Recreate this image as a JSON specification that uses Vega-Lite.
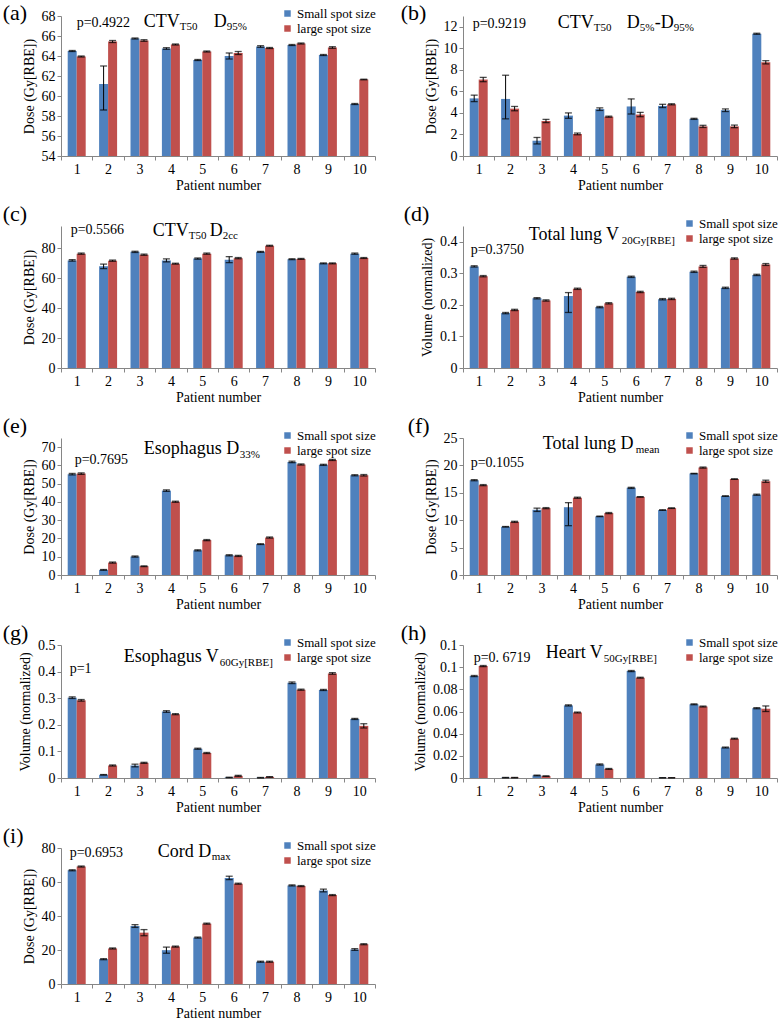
{
 "$schema": "https://vega.github.io/schema/vega-lite/v6.json",
 "padding": {"left": 2, "top": 2, "right": 2, "bottom": 2},
 "background": "white",
 "datasets": {
  "a": [
   {"patient":1,"group":"Small spot size","v":64.5,"lo":64.45,"hi":64.55},{"patient":1,"group":"large spot size","v":63.95,"lo":63.9,"hi":64.0},
   {"patient":2,"group":"Small spot size","v":61.2,"lo":58.6,"hi":63.0},{"patient":2,"group":"large spot size","v":65.45,"lo":65.35,"hi":65.55},
   {"patient":3,"group":"Small spot size","v":65.75,"lo":65.7,"hi":65.8},{"patient":3,"group":"large spot size","v":65.55,"lo":65.47,"hi":65.63},
   {"patient":4,"group":"Small spot size","v":64.75,"lo":64.67,"hi":64.83},{"patient":4,"group":"large spot size","v":65.15,"lo":65.1,"hi":65.2},
   {"patient":5,"group":"Small spot size","v":63.6,"lo":63.55,"hi":63.65},{"patient":5,"group":"large spot size","v":64.45,"lo":64.4,"hi":64.5},
   {"patient":6,"group":"Small spot size","v":64.0,"lo":63.7,"hi":64.3},{"patient":6,"group":"large spot size","v":64.3,"lo":64.15,"hi":64.45},
   {"patient":7,"group":"Small spot size","v":64.95,"lo":64.87,"hi":65.03},{"patient":7,"group":"large spot size","v":64.8,"lo":64.75,"hi":64.85},
   {"patient":8,"group":"Small spot size","v":65.1,"lo":65.05,"hi":65.15},{"patient":8,"group":"large spot size","v":65.25,"lo":65.2,"hi":65.3},
   {"patient":9,"group":"Small spot size","v":64.1,"lo":64.05,"hi":64.15},{"patient":9,"group":"large spot size","v":64.85,"lo":64.77,"hi":64.93},
   {"patient":10,"group":"Small spot size","v":59.2,"lo":59.15,"hi":59.25},{"patient":10,"group":"large spot size","v":61.65,"lo":61.62,"hi":61.68}
  ],
  "b": [
   {"patient":1,"group":"Small spot size","v":5.35,"lo":5.05,"hi":5.65},{"patient":1,"group":"large spot size","v":7.1,"lo":6.9,"hi":7.3},
   {"patient":2,"group":"Small spot size","v":5.3,"lo":3.45,"hi":7.5},{"patient":2,"group":"large spot size","v":4.4,"lo":4.2,"hi":4.6},
   {"patient":3,"group":"Small spot size","v":1.42,"lo":1.12,"hi":1.72},{"patient":3,"group":"large spot size","v":3.25,"lo":3.1,"hi":3.4},
   {"patient":4,"group":"Small spot size","v":3.75,"lo":3.5,"hi":4.0},{"patient":4,"group":"large spot size","v":2.05,"lo":1.97,"hi":2.13},
   {"patient":5,"group":"Small spot size","v":4.35,"lo":4.23,"hi":4.47},{"patient":5,"group":"large spot size","v":3.65,"lo":3.6,"hi":3.7},
   {"patient":6,"group":"Small spot size","v":4.6,"lo":3.9,"hi":5.3},{"patient":6,"group":"large spot size","v":3.85,"lo":3.65,"hi":4.05},
   {"patient":7,"group":"Small spot size","v":4.65,"lo":4.5,"hi":4.8},{"patient":7,"group":"large spot size","v":4.8,"lo":4.75,"hi":4.85},
   {"patient":8,"group":"Small spot size","v":3.45,"lo":3.4,"hi":3.5},{"patient":8,"group":"large spot size","v":2.75,"lo":2.65,"hi":2.85},
   {"patient":9,"group":"Small spot size","v":4.25,"lo":4.13,"hi":4.37},{"patient":9,"group":"large spot size","v":2.75,"lo":2.63,"hi":2.87},
   {"patient":10,"group":"Small spot size","v":11.35,"lo":11.3,"hi":11.4},{"patient":10,"group":"large spot size","v":8.7,"lo":8.55,"hi":8.85}
  ],
  "c": [
   {"patient":1,"group":"Small spot size","v":72.0,"lo":71.5,"hi":72.5},{"patient":1,"group":"large spot size","v":76.5,"lo":76.1,"hi":76.9},
   {"patient":2,"group":"Small spot size","v":68.0,"lo":66.5,"hi":69.5},{"patient":2,"group":"large spot size","v":71.8,"lo":71.4,"hi":72.2},
   {"patient":3,"group":"Small spot size","v":77.7,"lo":77.3,"hi":78.1},{"patient":3,"group":"large spot size","v":75.8,"lo":75.4,"hi":76.2},
   {"patient":4,"group":"Small spot size","v":72.0,"lo":71.0,"hi":73.0},{"patient":4,"group":"large spot size","v":69.8,"lo":69.5,"hi":70.1},
   {"patient":5,"group":"Small spot size","v":73.2,"lo":72.8,"hi":73.6},{"patient":5,"group":"large spot size","v":76.5,"lo":76.1,"hi":76.9},
   {"patient":6,"group":"Small spot size","v":72.5,"lo":70.5,"hi":74.5},{"patient":6,"group":"large spot size","v":73.5,"lo":73.1,"hi":73.9},
   {"patient":7,"group":"Small spot size","v":77.7,"lo":77.4,"hi":78.0},{"patient":7,"group":"large spot size","v":81.8,"lo":81.5,"hi":82.1},
   {"patient":8,"group":"Small spot size","v":72.8,"lo":72.5,"hi":73.1},{"patient":8,"group":"large spot size","v":73.0,"lo":72.7,"hi":73.3},
   {"patient":9,"group":"Small spot size","v":70.0,"lo":69.7,"hi":70.3},{"patient":9,"group":"large spot size","v":70.0,"lo":69.7,"hi":70.3},
   {"patient":10,"group":"Small spot size","v":76.5,"lo":76.1,"hi":76.9},{"patient":10,"group":"large spot size","v":73.6,"lo":73.3,"hi":73.9}
  ],
  "d": [
   {"patient":1,"group":"Small spot size","v":0.322,"lo":0.32,"hi":0.324},{"patient":1,"group":"large spot size","v":0.291,"lo":0.289,"hi":0.293},
   {"patient":2,"group":"Small spot size","v":0.174,"lo":0.172,"hi":0.176},{"patient":2,"group":"large spot size","v":0.184,"lo":0.182,"hi":0.186},
   {"patient":3,"group":"Small spot size","v":0.221,"lo":0.219,"hi":0.223},{"patient":3,"group":"large spot size","v":0.214,"lo":0.212,"hi":0.216},
   {"patient":4,"group":"Small spot size","v":0.228,"lo":0.176,"hi":0.239},{"patient":4,"group":"large spot size","v":0.251,"lo":0.249,"hi":0.253},
   {"patient":5,"group":"Small spot size","v":0.193,"lo":0.191,"hi":0.195},{"patient":5,"group":"large spot size","v":0.205,"lo":0.203,"hi":0.207},
   {"patient":6,"group":"Small spot size","v":0.289,"lo":0.287,"hi":0.291},{"patient":6,"group":"large spot size","v":0.241,"lo":0.239,"hi":0.243},
   {"patient":7,"group":"Small spot size","v":0.218,"lo":0.216,"hi":0.22},{"patient":7,"group":"large spot size","v":0.219,"lo":0.217,"hi":0.221},
   {"patient":8,"group":"Small spot size","v":0.305,"lo":0.303,"hi":0.307},{"patient":8,"group":"large spot size","v":0.322,"lo":0.319,"hi":0.325},
   {"patient":9,"group":"Small spot size","v":0.254,"lo":0.252,"hi":0.256},{"patient":9,"group":"large spot size","v":0.347,"lo":0.345,"hi":0.349},
   {"patient":10,"group":"Small spot size","v":0.295,"lo":0.293,"hi":0.297},{"patient":10,"group":"large spot size","v":0.328,"lo":0.325,"hi":0.331}
  ],
  "e": [
   {"patient":1,"group":"Small spot size","v":55.2,"lo":54.8,"hi":55.6},{"patient":1,"group":"large spot size","v":55.5,"lo":55.1,"hi":55.9},
   {"patient":2,"group":"Small spot size","v":2.8,"lo":2.6,"hi":3.0},{"patient":2,"group":"large spot size","v":6.8,"lo":6.5,"hi":7.1},
   {"patient":3,"group":"Small spot size","v":10.1,"lo":9.8,"hi":10.4},{"patient":3,"group":"large spot size","v":4.8,"lo":4.6,"hi":5.0},
   {"patient":4,"group":"Small spot size","v":46.2,"lo":45.8,"hi":46.6},{"patient":4,"group":"large spot size","v":40.1,"lo":39.8,"hi":40.4},
   {"patient":5,"group":"Small spot size","v":13.5,"lo":13.2,"hi":13.8},{"patient":5,"group":"large spot size","v":19.1,"lo":18.8,"hi":19.4},
   {"patient":6,"group":"Small spot size","v":10.8,"lo":10.5,"hi":11.1},{"patient":6,"group":"large spot size","v":10.45,"lo":10.15,"hi":10.75},
   {"patient":7,"group":"Small spot size","v":16.9,"lo":16.7,"hi":17.1},{"patient":7,"group":"large spot size","v":20.5,"lo":20.2,"hi":20.8},
   {"patient":8,"group":"Small spot size","v":61.9,"lo":61.5,"hi":62.3},{"patient":8,"group":"large spot size","v":60.5,"lo":60.2,"hi":60.8},
   {"patient":9,"group":"Small spot size","v":60.3,"lo":60.0,"hi":60.6},{"patient":9,"group":"large spot size","v":63.0,"lo":62.7,"hi":63.3},
   {"patient":10,"group":"Small spot size","v":54.6,"lo":54.3,"hi":54.9},{"patient":10,"group":"large spot size","v":54.6,"lo":54.2,"hi":55.0}
  ],
  "f": [
   {"patient":1,"group":"Small spot size","v":17.3,"lo":17.2,"hi":17.4},{"patient":1,"group":"large spot size","v":16.4,"lo":16.3,"hi":16.5},
   {"patient":2,"group":"Small spot size","v":8.8,"lo":8.75,"hi":8.85},{"patient":2,"group":"large spot size","v":9.7,"lo":9.6,"hi":9.8},
   {"patient":3,"group":"Small spot size","v":11.9,"lo":11.6,"hi":12.2},{"patient":3,"group":"large spot size","v":12.2,"lo":12.1,"hi":12.3},
   {"patient":4,"group":"Small spot size","v":12.37,"lo":9.0,"hi":13.2},{"patient":4,"group":"large spot size","v":14.1,"lo":14.0,"hi":14.2},
   {"patient":5,"group":"Small spot size","v":10.7,"lo":10.65,"hi":10.75},{"patient":5,"group":"large spot size","v":11.3,"lo":11.2,"hi":11.4},
   {"patient":6,"group":"Small spot size","v":15.9,"lo":15.8,"hi":16.0},{"patient":6,"group":"large spot size","v":14.25,"lo":14.2,"hi":14.3},
   {"patient":7,"group":"Small spot size","v":11.85,"lo":11.8,"hi":11.9},{"patient":7,"group":"large spot size","v":12.2,"lo":12.15,"hi":12.25},
   {"patient":8,"group":"Small spot size","v":18.5,"lo":18.45,"hi":18.55},{"patient":8,"group":"large spot size","v":19.6,"lo":19.5,"hi":19.7},
   {"patient":9,"group":"Small spot size","v":14.4,"lo":14.35,"hi":14.45},{"patient":9,"group":"large spot size","v":17.5,"lo":17.45,"hi":17.55},
   {"patient":10,"group":"Small spot size","v":14.65,"lo":14.55,"hi":14.75},{"patient":10,"group":"large spot size","v":17.1,"lo":16.9,"hi":17.3}
  ],
  "g": [
   {"patient":1,"group":"Small spot size","v":0.302,"lo":0.299,"hi":0.305},{"patient":1,"group":"large spot size","v":0.292,"lo":0.289,"hi":0.295},
   {"patient":2,"group":"Small spot size","v":0.012,"lo":0.011,"hi":0.013},{"patient":2,"group":"large spot size","v":0.047,"lo":0.045,"hi":0.049},
   {"patient":3,"group":"Small spot size","v":0.047,"lo":0.042,"hi":0.052},{"patient":3,"group":"large spot size","v":0.057,"lo":0.055,"hi":0.059},
   {"patient":4,"group":"Small spot size","v":0.25,"lo":0.247,"hi":0.253},{"patient":4,"group":"large spot size","v":0.24,"lo":0.238,"hi":0.242},
   {"patient":5,"group":"Small spot size","v":0.11,"lo":0.108,"hi":0.112},{"patient":5,"group":"large spot size","v":0.094,"lo":0.092,"hi":0.096},
   {"patient":6,"group":"Small spot size","v":0.002,"lo":0.001,"hi":0.003},{"patient":6,"group":"large spot size","v":0.008,"lo":0.006,"hi":0.01},
   {"patient":7,"group":"Small spot size","v":0.001,"lo":0.0,"hi":0.002},{"patient":7,"group":"large spot size","v":0.004,"lo":0.003,"hi":0.005},
   {"patient":8,"group":"Small spot size","v":0.358,"lo":0.355,"hi":0.361},{"patient":8,"group":"large spot size","v":0.332,"lo":0.33,"hi":0.334},
   {"patient":9,"group":"Small spot size","v":0.331,"lo":0.329,"hi":0.333},{"patient":9,"group":"large spot size","v":0.393,"lo":0.39,"hi":0.396},
   {"patient":10,"group":"Small spot size","v":0.222,"lo":0.22,"hi":0.224},{"patient":10,"group":"large spot size","v":0.196,"lo":0.188,"hi":0.204}
  ],
  "h": [
   {"patient":1,"group":"Small spot size","v":0.092,"lo":0.0915,"hi":0.0925},{"patient":1,"group":"large spot size","v":0.101,"lo":0.1005,"hi":0.1015},
   {"patient":2,"group":"Small spot size","v":0.0003,"lo":0.0001,"hi":0.0005},{"patient":2,"group":"large spot size","v":0.0003,"lo":0.0001,"hi":0.0005},
   {"patient":3,"group":"Small spot size","v":0.0023,"lo":0.002,"hi":0.0026},{"patient":3,"group":"large spot size","v":0.0017,"lo":0.0015,"hi":0.0019},
   {"patient":4,"group":"Small spot size","v":0.0655,"lo":0.065,"hi":0.066},{"patient":4,"group":"large spot size","v":0.0591,"lo":0.0587,"hi":0.0595},
   {"patient":5,"group":"Small spot size","v":0.0122,"lo":0.0117,"hi":0.0127},{"patient":5,"group":"large spot size","v":0.0082,"lo":0.0078,"hi":0.0086},
   {"patient":6,"group":"Small spot size","v":0.0965,"lo":0.096,"hi":0.097},{"patient":6,"group":"large spot size","v":0.0905,"lo":0.0901,"hi":0.0909},
   {"patient":7,"group":"Small spot size","v":0.0002,"lo":0.0001,"hi":0.0003},{"patient":7,"group":"large spot size","v":0.0002,"lo":0.0001,"hi":0.0003},
   {"patient":8,"group":"Small spot size","v":0.0665,"lo":0.0661,"hi":0.0669},{"patient":8,"group":"large spot size","v":0.0645,"lo":0.0641,"hi":0.0649},
   {"patient":9,"group":"Small spot size","v":0.0275,"lo":0.0271,"hi":0.0279},{"patient":9,"group":"large spot size","v":0.0355,"lo":0.0351,"hi":0.0359},
   {"patient":10,"group":"Small spot size","v":0.063,"lo":0.0625,"hi":0.0635},{"patient":10,"group":"large spot size","v":0.0625,"lo":0.06,"hi":0.065}
  ],
  "i": [
   {"patient":1,"group":"Small spot size","v":66.9,"lo":66.6,"hi":67.2},{"patient":1,"group":"large spot size","v":69.1,"lo":68.8,"hi":69.4},
   {"patient":2,"group":"Small spot size","v":14.6,"lo":14.3,"hi":14.9},{"patient":2,"group":"large spot size","v":20.9,"lo":20.6,"hi":21.2},
   {"patient":3,"group":"Small spot size","v":34.1,"lo":33.3,"hi":34.9},{"patient":3,"group":"large spot size","v":30.2,"lo":28.4,"hi":32.0},
   {"patient":4,"group":"Small spot size","v":19.9,"lo":18.1,"hi":21.7},{"patient":4,"group":"large spot size","v":22.0,"lo":21.7,"hi":22.3},
   {"patient":5,"group":"Small spot size","v":27.3,"lo":27.0,"hi":27.6},{"patient":5,"group":"large spot size","v":35.5,"lo":35.2,"hi":35.8},
   {"patient":6,"group":"Small spot size","v":62.4,"lo":61.4,"hi":63.4},{"patient":6,"group":"large spot size","v":59.0,"lo":58.7,"hi":59.3},
   {"patient":7,"group":"Small spot size","v":13.1,"lo":12.8,"hi":13.4},{"patient":7,"group":"large spot size","v":13.1,"lo":12.8,"hi":13.4},
   {"patient":8,"group":"Small spot size","v":58.0,"lo":57.7,"hi":58.3},{"patient":8,"group":"large spot size","v":57.6,"lo":57.3,"hi":57.9},
   {"patient":9,"group":"Small spot size","v":55.0,"lo":54.2,"hi":55.8},{"patient":9,"group":"large spot size","v":52.3,"lo":52.0,"hi":52.6},
   {"patient":10,"group":"Small spot size","v":20.3,"lo":19.8,"hi":20.8},{"patient":10,"group":"large spot size","v":23.4,"lo":23.1,"hi":23.7}
  ]
 },
 "columns": 2,
 "align": "each",
 "bounds": "flush",
 "spacing": {"row": 70, "column": 88},
 "resolve": {"scale": {"x": "independent", "y": "independent", "color": "independent", "xOffset": "independent"}, "legend": {"color": "independent"}},
 "concat": [
  {"width": 314, "height": 140, "data": {"name": "a"},
   "resolve": {"scale": {"y": "independent"}, "axis": {"x": "independent", "y": "independent"}},
   "layer": [
    {"mark": {"type": "bar", "clip": true}, "encoding": {
      "x": {"field": "patient", "type": "ordinal", "scale": {"paddingInner": 0, "paddingOuter": 0}, "axis": {"title": "Patient number", "tickBand": "extent", "labelAngle": 0, "labelFont": "Liberation Serif", "labelFontSize": 14, "labelColor": "#000", "titleFont": "Liberation Serif", "titleFontSize": 14, "titleFontWeight": "normal", "titleColor": "#000", "domainColor": "#868686", "tickColor": "#868686", "tickSize": 4, "labelPadding": 2, "titlePadding": 2, "grid": false}},
      "xOffset": {"field": "group", "type": "nominal", "scale": {"domain": ["Small spot size", "large spot size"], "paddingOuter": 0.745, "paddingInner": 0}},
      "y": {"field": "v", "type": "quantitative", "scale": {"domain": [54, 68], "nice": false, "zero": false}, "axis": {"values": [54,56,58,60,62,64,66,68], "title": "Dose (Gy[RBE])", "labelOverlap": false, "labelFont": "Liberation Serif", "labelFontSize": 14, "labelColor": "#000", "titleFont": "Liberation Serif", "titleFontSize": 14, "titleFontWeight": "normal", "titleColor": "#000", "domainColor": "#868686", "tickColor": "#868686", "tickSize": 4, "labelPadding": 2, "titlePadding": 5, "grid": false}},
      "color": {"field": "group", "type": "nominal", "scale": {"domain": ["Small spot size", "large spot size"], "range": ["#4F81BD", "#C0504D"]}, "legend": {"title": null, "orient": "none", "legendX": 220, "legendY": -9, "symbolType": "square", "symbolSize": 42, "symbolStrokeWidth": 0, "labelFont": "Liberation Serif", "labelFontSize": 13, "labelColor": "#000", "rowPadding": 1, "padding": 0, "labelOffset": 3}}}},
    {"mark": {"type": "rule", "color": "#000", "strokeWidth": 1}, "encoding": {"x": {"field": "patient", "type": "ordinal", "axis": null}, "xOffset": {"field": "group", "type": "nominal", "scale": {"domain": ["Small spot size", "large spot size"], "paddingOuter": 0.745, "paddingInner": 0}}, "y": {"field": "lo", "type": "quantitative", "scale": {"domain": [54, 68], "nice": false, "zero": false}, "axis": null}, "y2": {"field": "hi"}}},
    {"mark": {"type": "tick", "color": "#000", "thickness": 1.3, "size": 7}, "encoding": {"x": {"field": "patient", "type": "ordinal", "axis": null}, "xOffset": {"field": "group", "type": "nominal", "scale": {"domain": ["Small spot size", "large spot size"], "paddingOuter": 0.745, "paddingInner": 0}}, "y": {"field": "lo", "type": "quantitative", "scale": {"domain": [54, 68], "nice": false, "zero": false}, "axis": null}}},
    {"mark": {"type": "tick", "color": "#000", "thickness": 1.3, "size": 7}, "encoding": {"x": {"field": "patient", "type": "ordinal", "axis": null}, "xOffset": {"field": "group", "type": "nominal", "scale": {"domain": ["Small spot size", "large spot size"], "paddingOuter": 0.745, "paddingInner": 0}}, "y": {"field": "hi", "type": "quantitative", "scale": {"domain": [54, 68], "nice": false, "zero": false}, "axis": null}}},
    {"data": {"values": [{}]}, "encoding": {"x": {"datum": 1, "type": "ordinal", "axis": null}, "y": {"datum": 68, "type": "quantitative", "scale": {"domain": [54, 68], "nice": false, "zero": false}, "axis": null}},
     "layer": [
      {"mark": {"type": "text", "text": "(a)", "fontSize": 22, "baseline": "top", "dx": -74, "dy": -13}},
      {"mark": {"type": "text", "text": "p=0.4922", "fontSize": 14, "dx": 0, "dy": 11}},
      {"mark": {"type": "text", "text": "CTV", "fontSize": 18, "dx": 67, "dy": 11}},
      {"mark": {"type": "text", "text": "T50", "fontSize": 11, "dx": 103, "dy": 14}},
      {"mark": {"type": "text", "text": "D", "fontSize": 18, "dx": 137, "dy": 11}},
      {"mark": {"type": "text", "text": "95%", "fontSize": 11, "dx": 150, "dy": 14}}
     ]}
   ]},
  {"width": 314, "height": 140, "data": {"name": "b"},
   "resolve": {"scale": {"y": "independent"}, "axis": {"x": "independent", "y": "independent"}},
   "layer": [
    {"mark": {"type": "bar", "clip": true}, "encoding": {
      "x": {"field": "patient", "type": "ordinal", "scale": {"paddingInner": 0, "paddingOuter": 0}, "axis": {"title": "Patient number", "tickBand": "extent", "labelAngle": 0, "labelFont": "Liberation Serif", "labelFontSize": 14, "labelColor": "#000", "titleFont": "Liberation Serif", "titleFontSize": 14, "titleFontWeight": "normal", "titleColor": "#000", "domainColor": "#868686", "tickColor": "#868686", "tickSize": 4, "labelPadding": 2, "titlePadding": 2, "grid": false}},
      "xOffset": {"field": "group", "type": "nominal", "scale": {"domain": ["Small spot size", "large spot size"], "paddingOuter": 0.745, "paddingInner": 0}},
      "y": {"field": "v", "type": "quantitative", "scale": {"domain": [0, 13], "nice": false}, "axis": {"values": [0,2,4,6,8,10,12], "title": "Dose (Gy[RBE])", "labelOverlap": false, "labelFont": "Liberation Serif", "labelFontSize": 14, "labelColor": "#000", "titleFont": "Liberation Serif", "titleFontSize": 14, "titleFontWeight": "normal", "titleColor": "#000", "domainColor": "#868686", "tickColor": "#868686", "tickSize": 4, "labelPadding": 2, "titlePadding": 5, "grid": false}},
      "color": {"field": "group", "type": "nominal", "scale": {"domain": ["Small spot size", "large spot size"], "range": ["#4F81BD", "#C0504D"]}, "legend": null}}},
    {"mark": {"type": "rule", "color": "#000", "strokeWidth": 1}, "encoding": {"x": {"field": "patient", "type": "ordinal", "axis": null}, "xOffset": {"field": "group", "type": "nominal", "scale": {"domain": ["Small spot size", "large spot size"], "paddingOuter": 0.745, "paddingInner": 0}}, "y": {"field": "lo", "type": "quantitative", "scale": {"domain": [0, 13], "nice": false}, "axis": null}, "y2": {"field": "hi"}}},
    {"mark": {"type": "tick", "color": "#000", "thickness": 1.3, "size": 7}, "encoding": {"x": {"field": "patient", "type": "ordinal", "axis": null}, "xOffset": {"field": "group", "type": "nominal", "scale": {"domain": ["Small spot size", "large spot size"], "paddingOuter": 0.745, "paddingInner": 0}}, "y": {"field": "lo", "type": "quantitative", "scale": {"domain": [0, 13], "nice": false}, "axis": null}}},
    {"mark": {"type": "tick", "color": "#000", "thickness": 1.3, "size": 7}, "encoding": {"x": {"field": "patient", "type": "ordinal", "axis": null}, "xOffset": {"field": "group", "type": "nominal", "scale": {"domain": ["Small spot size", "large spot size"], "paddingOuter": 0.745, "paddingInner": 0}}, "y": {"field": "hi", "type": "quantitative", "scale": {"domain": [0, 13], "nice": false}, "axis": null}}},
    {"data": {"values": [{}]}, "encoding": {"x": {"datum": 1, "type": "ordinal", "axis": null}, "y": {"datum": 13, "type": "quantitative", "scale": {"domain": [0, 13], "nice": false}, "axis": null}},
     "layer": [
      {"mark": {"type": "text", "text": "(b)", "fontSize": 22, "baseline": "top", "dx": -78, "dy": -13}},
      {"mark": {"type": "text", "text": "p=0.9219", "fontSize": 14, "dx": -6, "dy": 12}},
      {"mark": {"type": "text", "text": "CTV", "fontSize": 18, "dx": 79, "dy": 12}},
      {"mark": {"type": "text", "text": "T50", "fontSize": 11, "dx": 115, "dy": 15}},
      {"mark": {"type": "text", "text": "D", "fontSize": 18, "dx": 148, "dy": 12}},
      {"mark": {"type": "text", "text": "5%", "fontSize": 11, "dx": 161, "dy": 15}},
      {"mark": {"type": "text", "text": "-D", "fontSize": 18, "dx": 176, "dy": 12}},
      {"mark": {"type": "text", "text": "95%", "fontSize": 11, "dx": 195, "dy": 15}}
     ]}
   ]},
  {"width": 314, "height": 142, "data": {"name": "c"},
   "resolve": {"scale": {"y": "independent"}, "axis": {"x": "independent", "y": "independent"}},
   "layer": [
    {"mark": {"type": "bar", "clip": true}, "encoding": {
      "x": {"field": "patient", "type": "ordinal", "scale": {"paddingInner": 0, "paddingOuter": 0}, "axis": {"title": "Patient number", "tickBand": "extent", "labelAngle": 0, "labelFont": "Liberation Serif", "labelFontSize": 14, "labelColor": "#000", "titleFont": "Liberation Serif", "titleFontSize": 14, "titleFontWeight": "normal", "titleColor": "#000", "domainColor": "#868686", "tickColor": "#868686", "tickSize": 4, "labelPadding": 2, "titlePadding": 2, "grid": false}},
      "xOffset": {"field": "group", "type": "nominal", "scale": {"domain": ["Small spot size", "large spot size"], "paddingOuter": 0.745, "paddingInner": 0}},
      "y": {"field": "v", "type": "quantitative", "scale": {"domain": [0, 95], "nice": false}, "axis": {"values": [0,20,40,60,80], "title": "Dose (Gy[RBE])", "labelOverlap": false, "labelFont": "Liberation Serif", "labelFontSize": 14, "labelColor": "#000", "titleFont": "Liberation Serif", "titleFontSize": 14, "titleFontWeight": "normal", "titleColor": "#000", "domainColor": "#868686", "tickColor": "#868686", "tickSize": 4, "labelPadding": 2, "titlePadding": 5, "grid": false}},
      "color": {"field": "group", "type": "nominal", "scale": {"domain": ["Small spot size", "large spot size"], "range": ["#4F81BD", "#C0504D"]}, "legend": null}}},
    {"mark": {"type": "rule", "color": "#000", "strokeWidth": 1}, "encoding": {"x": {"field": "patient", "type": "ordinal", "axis": null}, "xOffset": {"field": "group", "type": "nominal", "scale": {"domain": ["Small spot size", "large spot size"], "paddingOuter": 0.745, "paddingInner": 0}}, "y": {"field": "lo", "type": "quantitative", "scale": {"domain": [0, 95], "nice": false}, "axis": null}, "y2": {"field": "hi"}}},
    {"mark": {"type": "tick", "color": "#000", "thickness": 1.3, "size": 7}, "encoding": {"x": {"field": "patient", "type": "ordinal", "axis": null}, "xOffset": {"field": "group", "type": "nominal", "scale": {"domain": ["Small spot size", "large spot size"], "paddingOuter": 0.745, "paddingInner": 0}}, "y": {"field": "lo", "type": "quantitative", "scale": {"domain": [0, 95], "nice": false}, "axis": null}}},
    {"mark": {"type": "tick", "color": "#000", "thickness": 1.3, "size": 7}, "encoding": {"x": {"field": "patient", "type": "ordinal", "axis": null}, "xOffset": {"field": "group", "type": "nominal", "scale": {"domain": ["Small spot size", "large spot size"], "paddingOuter": 0.745, "paddingInner": 0}}, "y": {"field": "hi", "type": "quantitative", "scale": {"domain": [0, 95], "nice": false}, "axis": null}}},
    {"data": {"values": [{}]}, "encoding": {"x": {"datum": 1, "type": "ordinal", "axis": null}, "y": {"datum": 95, "type": "quantitative", "scale": {"domain": [0, 95], "nice": false}, "axis": null}},
     "layer": [
      {"mark": {"type": "text", "text": "(c)", "fontSize": 22, "baseline": "bottom", "dx": -74, "dy": 0}},
      {"mark": {"type": "text", "text": "p=0.5566", "fontSize": 14, "dx": -6, "dy": 8}},
      {"mark": {"type": "text", "text": "CTV", "fontSize": 18, "dx": 76, "dy": 10}},
      {"mark": {"type": "text", "text": "T50", "fontSize": 11, "dx": 112, "dy": 13}},
      {"mark": {"type": "text", "text": "D", "fontSize": 18, "dx": 133, "dy": 10}},
      {"mark": {"type": "text", "text": "2cc", "fontSize": 11, "dx": 146, "dy": 13}}
     ]}
   ]},
  {"width": 314, "height": 142, "data": {"name": "d"},
   "resolve": {"scale": {"y": "independent"}, "axis": {"x": "independent", "y": "independent"}},
   "layer": [
    {"mark": {"type": "bar", "clip": true}, "encoding": {
      "x": {"field": "patient", "type": "ordinal", "scale": {"paddingInner": 0, "paddingOuter": 0}, "axis": {"title": "Patient number", "tickBand": "extent", "labelAngle": 0, "labelFont": "Liberation Serif", "labelFontSize": 14, "labelColor": "#000", "titleFont": "Liberation Serif", "titleFontSize": 14, "titleFontWeight": "normal", "titleColor": "#000", "domainColor": "#868686", "tickColor": "#868686", "tickSize": 4, "labelPadding": 2, "titlePadding": 2, "grid": false}},
      "xOffset": {"field": "group", "type": "nominal", "scale": {"domain": ["Small spot size", "large spot size"], "paddingOuter": 0.745, "paddingInner": 0}},
      "y": {"field": "v", "type": "quantitative", "scale": {"domain": [0, 0.45], "nice": false}, "axis": {"values": [0,0.1,0.2,0.3,0.4], "format": "~g", "title": "Volume (normalized)", "labelOverlap": false, "labelFont": "Liberation Serif", "labelFontSize": 14, "labelColor": "#000", "titleFont": "Liberation Serif", "titleFontSize": 14, "titleFontWeight": "normal", "titleColor": "#000", "domainColor": "#868686", "tickColor": "#868686", "tickSize": 4, "labelPadding": 2, "titlePadding": 5, "grid": false}},
      "color": {"field": "group", "type": "nominal", "scale": {"domain": ["Small spot size", "large spot size"], "range": ["#4F81BD", "#C0504D"]}, "legend": {"title": null, "orient": "none", "legendX": 220, "legendY": -9, "symbolType": "square", "symbolSize": 42, "symbolStrokeWidth": 0, "labelFont": "Liberation Serif", "labelFontSize": 13, "labelColor": "#000", "rowPadding": 1, "padding": 0, "labelOffset": 3}}}},
    {"mark": {"type": "rule", "color": "#000", "strokeWidth": 1}, "encoding": {"x": {"field": "patient", "type": "ordinal", "axis": null}, "xOffset": {"field": "group", "type": "nominal", "scale": {"domain": ["Small spot size", "large spot size"], "paddingOuter": 0.745, "paddingInner": 0}}, "y": {"field": "lo", "type": "quantitative", "scale": {"domain": [0, 0.45], "nice": false}, "axis": null}, "y2": {"field": "hi"}}},
    {"mark": {"type": "tick", "color": "#000", "thickness": 1.3, "size": 7}, "encoding": {"x": {"field": "patient", "type": "ordinal", "axis": null}, "xOffset": {"field": "group", "type": "nominal", "scale": {"domain": ["Small spot size", "large spot size"], "paddingOuter": 0.745, "paddingInner": 0}}, "y": {"field": "lo", "type": "quantitative", "scale": {"domain": [0, 0.45], "nice": false}, "axis": null}}},
    {"mark": {"type": "tick", "color": "#000", "thickness": 1.3, "size": 7}, "encoding": {"x": {"field": "patient", "type": "ordinal", "axis": null}, "xOffset": {"field": "group", "type": "nominal", "scale": {"domain": ["Small spot size", "large spot size"], "paddingOuter": 0.745, "paddingInner": 0}}, "y": {"field": "hi", "type": "quantitative", "scale": {"domain": [0, 0.45], "nice": false}, "axis": null}}},
    {"data": {"values": [{}]}, "encoding": {"x": {"datum": 1, "type": "ordinal", "axis": null}, "y": {"datum": 0.45, "type": "quantitative", "scale": {"domain": [0, 0.45], "nice": false}, "axis": null}},
     "layer": [
      {"mark": {"type": "text", "text": "(d)", "fontSize": 22, "baseline": "bottom", "dx": -75, "dy": 0}},
      {"mark": {"type": "text", "text": "Total lung V", "fontSize": 18, "dx": 50, "dy": 14}},
      {"mark": {"type": "text", "text": "20Gy[RBE]", "fontSize": 11, "dx": 143, "dy": 18}},
      {"mark": {"type": "text", "text": "p=0.3750", "fontSize": 14, "dx": -8, "dy": 28}}
     ]}
   ]},
  {"width": 314, "height": 137, "data": {"name": "e"},
   "resolve": {"scale": {"y": "independent"}, "axis": {"x": "independent", "y": "independent"}},
   "layer": [
    {"mark": {"type": "bar", "clip": true}, "encoding": {
      "x": {"field": "patient", "type": "ordinal", "scale": {"paddingInner": 0, "paddingOuter": 0}, "axis": {"title": "Patient number", "tickBand": "extent", "labelAngle": 0, "labelFont": "Liberation Serif", "labelFontSize": 14, "labelColor": "#000", "titleFont": "Liberation Serif", "titleFontSize": 14, "titleFontWeight": "normal", "titleColor": "#000", "domainColor": "#868686", "tickColor": "#868686", "tickSize": 4, "labelPadding": 2, "titlePadding": 2, "grid": false}},
      "xOffset": {"field": "group", "type": "nominal", "scale": {"domain": ["Small spot size", "large spot size"], "paddingOuter": 0.745, "paddingInner": 0}},
      "y": {"field": "v", "type": "quantitative", "scale": {"domain": [0, 75], "nice": false}, "axis": {"values": [0,10,20,30,40,50,60,70], "title": "Dose (Gy[RBE])", "labelOverlap": false, "labelFont": "Liberation Serif", "labelFontSize": 14, "labelColor": "#000", "titleFont": "Liberation Serif", "titleFontSize": 14, "titleFontWeight": "normal", "titleColor": "#000", "domainColor": "#868686", "tickColor": "#868686", "tickSize": 4, "labelPadding": 2, "titlePadding": 5, "grid": false}},
      "color": {"field": "group", "type": "nominal", "scale": {"domain": ["Small spot size", "large spot size"], "range": ["#4F81BD", "#C0504D"]}, "legend": {"title": null, "orient": "none", "legendX": 220, "legendY": -9, "symbolType": "square", "symbolSize": 42, "symbolStrokeWidth": 0, "labelFont": "Liberation Serif", "labelFontSize": 13, "labelColor": "#000", "rowPadding": 1, "padding": 0, "labelOffset": 3}}}},
    {"mark": {"type": "rule", "color": "#000", "strokeWidth": 1}, "encoding": {"x": {"field": "patient", "type": "ordinal", "axis": null}, "xOffset": {"field": "group", "type": "nominal", "scale": {"domain": ["Small spot size", "large spot size"], "paddingOuter": 0.745, "paddingInner": 0}}, "y": {"field": "lo", "type": "quantitative", "scale": {"domain": [0, 75], "nice": false}, "axis": null}, "y2": {"field": "hi"}}},
    {"mark": {"type": "tick", "color": "#000", "thickness": 1.3, "size": 7}, "encoding": {"x": {"field": "patient", "type": "ordinal", "axis": null}, "xOffset": {"field": "group", "type": "nominal", "scale": {"domain": ["Small spot size", "large spot size"], "paddingOuter": 0.745, "paddingInner": 0}}, "y": {"field": "lo", "type": "quantitative", "scale": {"domain": [0, 75], "nice": false}, "axis": null}}},
    {"mark": {"type": "tick", "color": "#000", "thickness": 1.3, "size": 7}, "encoding": {"x": {"field": "patient", "type": "ordinal", "axis": null}, "xOffset": {"field": "group", "type": "nominal", "scale": {"domain": ["Small spot size", "large spot size"], "paddingOuter": 0.745, "paddingInner": 0}}, "y": {"field": "hi", "type": "quantitative", "scale": {"domain": [0, 75], "nice": false}, "axis": null}}},
    {"data": {"values": [{}]}, "encoding": {"x": {"datum": 1, "type": "ordinal", "axis": null}, "y": {"datum": 75, "type": "quantitative", "scale": {"domain": [0, 75], "nice": false}, "axis": null}},
     "layer": [
      {"mark": {"type": "text", "text": "(e)", "fontSize": 22, "baseline": "bottom", "dx": -74, "dy": 0}},
      {"mark": {"type": "text", "text": "Esophagus D", "fontSize": 18, "dx": 67, "dy": 16}},
      {"mark": {"type": "text", "text": "33%", "fontSize": 11, "dx": 163, "dy": 20}},
      {"mark": {"type": "text", "text": "p=0.7695", "fontSize": 14, "dx": -2, "dy": 26}}
     ]}
   ]},
  {"width": 314, "height": 137, "data": {"name": "f"},
   "resolve": {"scale": {"y": "independent"}, "axis": {"x": "independent", "y": "independent"}},
   "layer": [
    {"mark": {"type": "bar", "clip": true}, "encoding": {
      "x": {"field": "patient", "type": "ordinal", "scale": {"paddingInner": 0, "paddingOuter": 0}, "axis": {"title": "Patient number", "tickBand": "extent", "labelAngle": 0, "labelFont": "Liberation Serif", "labelFontSize": 14, "labelColor": "#000", "titleFont": "Liberation Serif", "titleFontSize": 14, "titleFontWeight": "normal", "titleColor": "#000", "domainColor": "#868686", "tickColor": "#868686", "tickSize": 4, "labelPadding": 2, "titlePadding": 2, "grid": false}},
      "xOffset": {"field": "group", "type": "nominal", "scale": {"domain": ["Small spot size", "large spot size"], "paddingOuter": 0.745, "paddingInner": 0}},
      "y": {"field": "v", "type": "quantitative", "scale": {"domain": [0, 25], "nice": false}, "axis": {"values": [0,5,10,15,20,25], "title": "Dose (Gy[RBE])", "labelOverlap": false, "labelFont": "Liberation Serif", "labelFontSize": 14, "labelColor": "#000", "titleFont": "Liberation Serif", "titleFontSize": 14, "titleFontWeight": "normal", "titleColor": "#000", "domainColor": "#868686", "tickColor": "#868686", "tickSize": 4, "labelPadding": 2, "titlePadding": 5, "grid": false}},
      "color": {"field": "group", "type": "nominal", "scale": {"domain": ["Small spot size", "large spot size"], "range": ["#4F81BD", "#C0504D"]}, "legend": {"title": null, "orient": "none", "legendX": 220, "legendY": -9, "symbolType": "square", "symbolSize": 42, "symbolStrokeWidth": 0, "labelFont": "Liberation Serif", "labelFontSize": 13, "labelColor": "#000", "rowPadding": 1, "padding": 0, "labelOffset": 3}}}},
    {"mark": {"type": "rule", "color": "#000", "strokeWidth": 1}, "encoding": {"x": {"field": "patient", "type": "ordinal", "axis": null}, "xOffset": {"field": "group", "type": "nominal", "scale": {"domain": ["Small spot size", "large spot size"], "paddingOuter": 0.745, "paddingInner": 0}}, "y": {"field": "lo", "type": "quantitative", "scale": {"domain": [0, 25], "nice": false}, "axis": null}, "y2": {"field": "hi"}}},
    {"mark": {"type": "tick", "color": "#000", "thickness": 1.3, "size": 7}, "encoding": {"x": {"field": "patient", "type": "ordinal", "axis": null}, "xOffset": {"field": "group", "type": "nominal", "scale": {"domain": ["Small spot size", "large spot size"], "paddingOuter": 0.745, "paddingInner": 0}}, "y": {"field": "lo", "type": "quantitative", "scale": {"domain": [0, 25], "nice": false}, "axis": null}}},
    {"mark": {"type": "tick", "color": "#000", "thickness": 1.3, "size": 7}, "encoding": {"x": {"field": "patient", "type": "ordinal", "axis": null}, "xOffset": {"field": "group", "type": "nominal", "scale": {"domain": ["Small spot size", "large spot size"], "paddingOuter": 0.745, "paddingInner": 0}}, "y": {"field": "hi", "type": "quantitative", "scale": {"domain": [0, 25], "nice": false}, "axis": null}}},
    {"data": {"values": [{}]}, "encoding": {"x": {"datum": 1, "type": "ordinal", "axis": null}, "y": {"datum": 25, "type": "quantitative", "scale": {"domain": [0, 25], "nice": false}, "axis": null}},
     "layer": [
      {"mark": {"type": "text", "text": "(f)", "fontSize": 22, "baseline": "bottom", "dx": -71, "dy": 0}},
      {"mark": {"type": "text", "text": "Total lung D", "fontSize": 18, "dx": 64, "dy": 11}},
      {"mark": {"type": "text", "text": "mean", "fontSize": 11, "dx": 157, "dy": 15}},
      {"mark": {"type": "text", "text": "p=0.1055", "fontSize": 14, "dx": -8, "dy": 29}}
     ]}
   ]},
  {"width": 314, "height": 133, "data": {"name": "g"},
   "resolve": {"scale": {"y": "independent"}, "axis": {"x": "independent", "y": "independent"}},
   "layer": [
    {"mark": {"type": "bar", "clip": true}, "encoding": {
      "x": {"field": "patient", "type": "ordinal", "scale": {"paddingInner": 0, "paddingOuter": 0}, "axis": {"title": "Patient number", "tickBand": "extent", "labelAngle": 0, "labelFont": "Liberation Serif", "labelFontSize": 14, "labelColor": "#000", "titleFont": "Liberation Serif", "titleFontSize": 14, "titleFontWeight": "normal", "titleColor": "#000", "domainColor": "#868686", "tickColor": "#868686", "tickSize": 4, "labelPadding": 2, "titlePadding": 2, "grid": false}},
      "xOffset": {"field": "group", "type": "nominal", "scale": {"domain": ["Small spot size", "large spot size"], "paddingOuter": 0.745, "paddingInner": 0}},
      "y": {"field": "v", "type": "quantitative", "scale": {"domain": [0, 0.5], "nice": false}, "axis": {"values": [0,0.1,0.2,0.3,0.4,0.5], "format": "~g", "title": "Volume (normalized)", "labelOverlap": false, "labelFont": "Liberation Serif", "labelFontSize": 14, "labelColor": "#000", "titleFont": "Liberation Serif", "titleFontSize": 14, "titleFontWeight": "normal", "titleColor": "#000", "domainColor": "#868686", "tickColor": "#868686", "tickSize": 4, "labelPadding": 2, "titlePadding": 5, "grid": false}},
      "color": {"field": "group", "type": "nominal", "scale": {"domain": ["Small spot size", "large spot size"], "range": ["#4F81BD", "#C0504D"]}, "legend": {"title": null, "orient": "none", "legendX": 220, "legendY": -9, "symbolType": "square", "symbolSize": 42, "symbolStrokeWidth": 0, "labelFont": "Liberation Serif", "labelFontSize": 13, "labelColor": "#000", "rowPadding": 1, "padding": 0, "labelOffset": 3}}}},
    {"mark": {"type": "rule", "color": "#000", "strokeWidth": 1}, "encoding": {"x": {"field": "patient", "type": "ordinal", "axis": null}, "xOffset": {"field": "group", "type": "nominal", "scale": {"domain": ["Small spot size", "large spot size"], "paddingOuter": 0.745, "paddingInner": 0}}, "y": {"field": "lo", "type": "quantitative", "scale": {"domain": [0, 0.5], "nice": false}, "axis": null}, "y2": {"field": "hi"}}},
    {"mark": {"type": "tick", "color": "#000", "thickness": 1.3, "size": 7}, "encoding": {"x": {"field": "patient", "type": "ordinal", "axis": null}, "xOffset": {"field": "group", "type": "nominal", "scale": {"domain": ["Small spot size", "large spot size"], "paddingOuter": 0.745, "paddingInner": 0}}, "y": {"field": "lo", "type": "quantitative", "scale": {"domain": [0, 0.5], "nice": false}, "axis": null}}},
    {"mark": {"type": "tick", "color": "#000", "thickness": 1.3, "size": 7}, "encoding": {"x": {"field": "patient", "type": "ordinal", "axis": null}, "xOffset": {"field": "group", "type": "nominal", "scale": {"domain": ["Small spot size", "large spot size"], "paddingOuter": 0.745, "paddingInner": 0}}, "y": {"field": "hi", "type": "quantitative", "scale": {"domain": [0, 0.5], "nice": false}, "axis": null}}},
    {"data": {"values": [{}]}, "encoding": {"x": {"datum": 1, "type": "ordinal", "axis": null}, "y": {"datum": 0.5, "type": "quantitative", "scale": {"domain": [0, 0.5], "nice": false}, "axis": null}},
     "layer": [
      {"mark": {"type": "text", "text": "(g)", "fontSize": 22, "baseline": "bottom", "dx": -74, "dy": 0}},
      {"mark": {"type": "text", "text": "Esophagus V", "fontSize": 18, "dx": 47, "dy": 17}},
      {"mark": {"type": "text", "text": "60Gy[RBE]", "fontSize": 11, "dx": 143, "dy": 21}},
      {"mark": {"type": "text", "text": "p=1", "fontSize": 14, "dx": -7, "dy": 28}}
     ]}
   ]},
  {"width": 314, "height": 133, "data": {"name": "h"},
   "resolve": {"scale": {"y": "independent"}, "axis": {"x": "independent", "y": "independent"}},
   "layer": [
    {"mark": {"type": "bar", "clip": true}, "encoding": {
      "x": {"field": "patient", "type": "ordinal", "scale": {"paddingInner": 0, "paddingOuter": 0}, "axis": {"title": "Patient number", "tickBand": "extent", "labelAngle": 0, "labelFont": "Liberation Serif", "labelFontSize": 14, "labelColor": "#000", "titleFont": "Liberation Serif", "titleFontSize": 14, "titleFontWeight": "normal", "titleColor": "#000", "domainColor": "#868686", "tickColor": "#868686", "tickSize": 4, "labelPadding": 2, "titlePadding": 2, "grid": false}},
      "xOffset": {"field": "group", "type": "nominal", "scale": {"domain": ["Small spot size", "large spot size"], "paddingOuter": 0.745, "paddingInner": 0}},
      "y": {"field": "v", "type": "quantitative", "scale": {"domain": [0, 0.12], "nice": false}, "axis": {"values": [0,0.02,0.04,0.06,0.08,0.1,0.12], "format": "~g", "title": "Volume (normalized)", "labelOverlap": false, "labelFont": "Liberation Serif", "labelFontSize": 14, "labelColor": "#000", "titleFont": "Liberation Serif", "titleFontSize": 14, "titleFontWeight": "normal", "titleColor": "#000", "domainColor": "#868686", "tickColor": "#868686", "tickSize": 4, "labelPadding": 2, "titlePadding": 5, "grid": false}},
      "color": {"field": "group", "type": "nominal", "scale": {"domain": ["Small spot size", "large spot size"], "range": ["#4F81BD", "#C0504D"]}, "legend": {"title": null, "orient": "none", "legendX": 220, "legendY": -9, "symbolType": "square", "symbolSize": 42, "symbolStrokeWidth": 0, "labelFont": "Liberation Serif", "labelFontSize": 13, "labelColor": "#000", "rowPadding": 1, "padding": 0, "labelOffset": 3}}}},
    {"mark": {"type": "rule", "color": "#000", "strokeWidth": 1}, "encoding": {"x": {"field": "patient", "type": "ordinal", "axis": null}, "xOffset": {"field": "group", "type": "nominal", "scale": {"domain": ["Small spot size", "large spot size"], "paddingOuter": 0.745, "paddingInner": 0}}, "y": {"field": "lo", "type": "quantitative", "scale": {"domain": [0, 0.12], "nice": false}, "axis": null}, "y2": {"field": "hi"}}},
    {"mark": {"type": "tick", "color": "#000", "thickness": 1.3, "size": 7}, "encoding": {"x": {"field": "patient", "type": "ordinal", "axis": null}, "xOffset": {"field": "group", "type": "nominal", "scale": {"domain": ["Small spot size", "large spot size"], "paddingOuter": 0.745, "paddingInner": 0}}, "y": {"field": "lo", "type": "quantitative", "scale": {"domain": [0, 0.12], "nice": false}, "axis": null}}},
    {"mark": {"type": "tick", "color": "#000", "thickness": 1.3, "size": 7}, "encoding": {"x": {"field": "patient", "type": "ordinal", "axis": null}, "xOffset": {"field": "group", "type": "nominal", "scale": {"domain": ["Small spot size", "large spot size"], "paddingOuter": 0.745, "paddingInner": 0}}, "y": {"field": "hi", "type": "quantitative", "scale": {"domain": [0, 0.12], "nice": false}, "axis": null}}},
    {"data": {"values": [{}]}, "encoding": {"x": {"datum": 1, "type": "ordinal", "axis": null}, "y": {"datum": 0.12, "type": "quantitative", "scale": {"domain": [0, 0.12], "nice": false}, "axis": null}},
     "layer": [
      {"mark": {"type": "text", "text": "(h)", "fontSize": 22, "baseline": "bottom", "dx": -78, "dy": 0}},
      {"mark": {"type": "text", "text": "Heart V", "fontSize": 18, "dx": 67, "dy": 13}},
      {"mark": {"type": "text", "text": "50Gy[RBE]", "fontSize": 11, "dx": 125, "dy": 17}},
      {"mark": {"type": "text", "text": "p=0. 6719", "fontSize": 14, "dx": -5, "dy": 17}}
     ]}
   ]},
  {"width": 314, "height": 136, "data": {"name": "i"},
   "resolve": {"scale": {"y": "independent"}, "axis": {"x": "independent", "y": "independent"}},
   "layer": [
    {"mark": {"type": "bar", "clip": true}, "encoding": {
      "x": {"field": "patient", "type": "ordinal", "scale": {"paddingInner": 0, "paddingOuter": 0}, "axis": {"title": "Patient number", "tickBand": "extent", "labelAngle": 0, "labelFont": "Liberation Serif", "labelFontSize": 14, "labelColor": "#000", "titleFont": "Liberation Serif", "titleFontSize": 14, "titleFontWeight": "normal", "titleColor": "#000", "domainColor": "#868686", "tickColor": "#868686", "tickSize": 4, "labelPadding": 2, "titlePadding": 2, "grid": false}},
      "xOffset": {"field": "group", "type": "nominal", "scale": {"domain": ["Small spot size", "large spot size"], "paddingOuter": 0.745, "paddingInner": 0}},
      "y": {"field": "v", "type": "quantitative", "scale": {"domain": [0, 80], "nice": false}, "axis": {"values": [0,20,40,60,80], "title": "Dose (Gy[RBE])", "labelOverlap": false, "labelFont": "Liberation Serif", "labelFontSize": 14, "labelColor": "#000", "titleFont": "Liberation Serif", "titleFontSize": 14, "titleFontWeight": "normal", "titleColor": "#000", "domainColor": "#868686", "tickColor": "#868686", "tickSize": 4, "labelPadding": 2, "titlePadding": 5, "grid": false}},
      "color": {"field": "group", "type": "nominal", "scale": {"domain": ["Small spot size", "large spot size"], "range": ["#4F81BD", "#C0504D"]}, "legend": {"title": null, "orient": "none", "legendX": 220, "legendY": -9, "symbolType": "square", "symbolSize": 42, "symbolStrokeWidth": 0, "labelFont": "Liberation Serif", "labelFontSize": 13, "labelColor": "#000", "rowPadding": 1, "padding": 0, "labelOffset": 3}}}},
    {"mark": {"type": "rule", "color": "#000", "strokeWidth": 1}, "encoding": {"x": {"field": "patient", "type": "ordinal", "axis": null}, "xOffset": {"field": "group", "type": "nominal", "scale": {"domain": ["Small spot size", "large spot size"], "paddingOuter": 0.745, "paddingInner": 0}}, "y": {"field": "lo", "type": "quantitative", "scale": {"domain": [0, 80], "nice": false}, "axis": null}, "y2": {"field": "hi"}}},
    {"mark": {"type": "tick", "color": "#000", "thickness": 1.3, "size": 7}, "encoding": {"x": {"field": "patient", "type": "ordinal", "axis": null}, "xOffset": {"field": "group", "type": "nominal", "scale": {"domain": ["Small spot size", "large spot size"], "paddingOuter": 0.745, "paddingInner": 0}}, "y": {"field": "lo", "type": "quantitative", "scale": {"domain": [0, 80], "nice": false}, "axis": null}}},
    {"mark": {"type": "tick", "color": "#000", "thickness": 1.3, "size": 7}, "encoding": {"x": {"field": "patient", "type": "ordinal", "axis": null}, "xOffset": {"field": "group", "type": "nominal", "scale": {"domain": ["Small spot size", "large spot size"], "paddingOuter": 0.745, "paddingInner": 0}}, "y": {"field": "hi", "type": "quantitative", "scale": {"domain": [0, 80], "nice": false}, "axis": null}}},
    {"data": {"values": [{}]}, "encoding": {"x": {"datum": 1, "type": "ordinal", "axis": null}, "y": {"datum": 80, "type": "quantitative", "scale": {"domain": [0, 80], "nice": false}, "axis": null}},
     "layer": [
      {"mark": {"type": "text", "text": "(i)", "fontSize": 22, "baseline": "bottom", "dx": -74, "dy": 0}},
      {"mark": {"type": "text", "text": "Cord D", "fontSize": 18, "dx": 81, "dy": 9}},
      {"mark": {"type": "text", "text": "max", "fontSize": 11, "dx": 135, "dy": 12}},
      {"mark": {"type": "text", "text": "p=0.6953", "fontSize": 14, "dx": -7, "dy": 9}}
     ]}
   ]}
 ],
 "config": {
  "view": {"stroke": null},
  "font": "Liberation Serif",
  "axis": {"labelFont": "Liberation Serif", "titleFont": "Liberation Serif", "labelOverlap": false},
  "legend": {"labelFont": "Liberation Serif"},
  "text": {"font": "Liberation Serif", "color": "#000", "align": "left", "baseline": "alphabetic"}
 }
}
